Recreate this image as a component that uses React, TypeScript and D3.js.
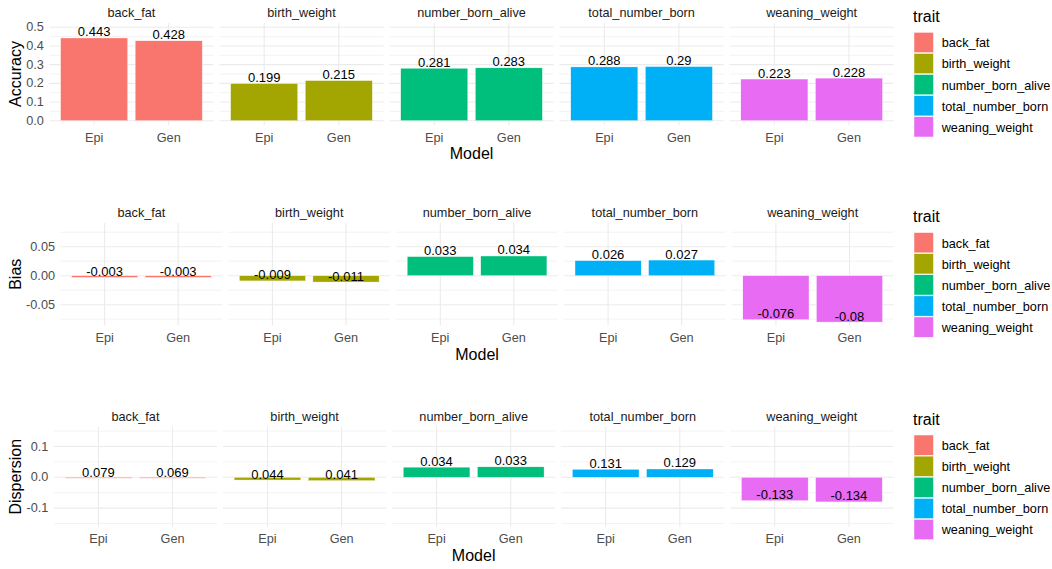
import React from "react";
import * as d3 from "d3";

const traits = ["back_fat", "birth_weight", "number_born_alive", "total_number_born", "weaning_weight"];
const models = ["Epi", "Gen"];
const traitColors = ["#F8766D", "#A3A500", "#00BF7D", "#00B0F6", "#E76BF3"];

const accuracyEpi = [0.443, 0.199, 0.281, 0.288, 0.223];
const accuracyGen = [0.428, 0.215, 0.283, 0.29, 0.228];

const biasEpi = [-0.003, -0.009, 0.033, 0.026, -0.076];
const biasGen = [-0.003, -0.011, 0.034, 0.027, -0.08];

// labels printed in the Dispersion panel
const dispersionEpi = [0.079, 0.044, 0.034, 0.131, -0.133];
const dispersionGen = [0.069, 0.041, 0.033, 0.129, -0.134];
// bar heights as drawn in the Dispersion panel of the reference
const dispersionBarEpi = [-0.003, -0.009, 0.033, 0.026, -0.076];
const dispersionBarGen = [-0.003, -0.011, 0.034, 0.027, -0.08];

const accuracyTicks = [0, 0.1, 0.2, 0.3, 0.4, 0.5];
const accuracyTickLabels = ["0.0", "0.1", "0.2", "0.3", "0.4", "0.5"];
const biasTicks = [-0.05, 0, 0.05];
const biasTickLabels = ["-0.05", "0.00", "0.05"];
const dispersionTicks = [-0.1, 0, 0.1];
const dispersionTickLabels = ["-0.1", "0.0", "0.1"];

const FONT = "'Liberation Sans', Arial, Helvetica, sans-serif";

type RowCfg = {
  title: string;
  barsEpi: number[];
  barsGen: number[];
  labelsEpi: number[];
  labelsGen: number[];
  ticks: number[];
  tickLabels: string[];
  domain: [number, number];
  left: number;
  right: number;
  top: number;
  bottom: number;
};

const rows: RowCfg[] = [
  {
    title: "Accuracy",
    barsEpi: accuracyEpi,
    barsGen: accuracyGen,
    labelsEpi: accuracyEpi,
    labelsGen: accuracyGen,
    ticks: accuracyTicks,
    tickLabels: accuracyTickLabels,
    domain: [-0.023, 0.523],
    left: 49.4,
    right: 893.7,
    top: 23,
    bottom: 125,
  },
  {
    title: "Bias",
    barsEpi: biasEpi,
    barsGen: biasGen,
    labelsEpi: biasEpi,
    labelsGen: biasGen,
    ticks: biasTicks,
    tickLabels: biasTickLabels,
    domain: [-0.0859, 0.0909],
    left: 60.5,
    right: 893.6,
    top: 223,
    bottom: 325.5,
  },
  {
    title: "Dispersion",
    barsEpi: dispersionBarEpi,
    barsGen: dispersionBarGen,
    labelsEpi: dispersionEpi,
    labelsGen: dispersionGen,
    ticks: dispersionTicks,
    tickLabels: dispersionTickLabels,
    domain: [-0.1604, 0.1643],
    left: 53.9,
    right: 893.4,
    top: 426.7,
    bottom: 526.7,
  },
];

const GAP = 6;

function Row({ cfg }: { cfg: RowCfg }) {
  const pw = (cfg.right - cfg.left - 4 * GAP) / 5;
  const y = d3.scaleLinear().domain(cfg.domain).range([cfg.bottom, cfg.top]);
  const x = d3.scalePoint<string>().domain(models).range([0, pw]).padding(0.6);
  const step = x.step();
  const bw = step * 0.9;
  const majorStep = cfg.ticks[1] - cfg.ticks[0];
  const minor: number[] = [];
  for (let i = -1; i < cfg.ticks.length; i++) {
    const v = cfg.ticks[0] + (i + 0.5) * majorStep;
    if (v >= cfg.domain[0] && v <= cfg.domain[1]) minor.push(v);
  }
  const fmt = (v: number) => String(v);
  const midY = (cfg.top + cfg.bottom) / 2;
  const midX = (cfg.left + cfg.right) / 2;

  return (
    <g>
      {traits.map((t, i) => {
        const px = cfg.left + i * (pw + GAP);
        const vals = [cfg.barsEpi[i], cfg.barsGen[i]];
        const labs = [cfg.labelsEpi[i], cfg.labelsGen[i]];
        return (
          <g key={t} transform={`translate(${px},0)`}>
            {minor.map((v) => (
              <line key={"mn" + v} x1={0} x2={pw} y1={y(v)} y2={y(v)} stroke="#EBEBEB" strokeWidth={0.6} />
            ))}
            {cfg.ticks.map((v) => (
              <line key={"mj" + v} x1={0} x2={pw} y1={y(v)} y2={y(v)} stroke="#EBEBEB" strokeWidth={1.1} />
            ))}
            {models.map((m) => (
              <line key={"v" + m} x1={x(m)!} x2={x(m)!} y1={cfg.top} y2={cfg.bottom} stroke="#EBEBEB" strokeWidth={1.1} />
            ))}
            {models.map((m, j) => {
              const v = vals[j];
              const y0 = y(0);
              const y1 = y(v);
              return (
                <rect
                  key={"b" + m}
                  x={x(m)! - bw / 2}
                  y={Math.min(y0, y1)}
                  width={bw}
                  height={Math.max(Math.abs(y1 - y0), 0.8)}
                  fill={traitColors[i]}
                  stroke="#ffffff"
                  strokeWidth={0.4}
                />
              );
            })}
            {models.map((m, j) => (
              <text
                key={"l" + m}
                x={x(m)!}
                y={y(vals[j]) - 1.5}
                textAnchor="middle"
                fontSize={13}
                fontFamily={FONT}
                fill="#000"
              >
                {fmt(labs[j])}
              </text>
            ))}
            <text
              x={pw / 2}
              y={cfg.top - 10}
              textAnchor="middle"
              dominantBaseline="central"
              fontSize={12.7}
              fontFamily={FONT}
              fill="#1A1A1A"
            >
              {t}
            </text>
            {models.map((m) => (
              <text
                key={"t" + m}
                x={x(m)!}
                y={cfg.bottom + 12.5}
                textAnchor="middle"
                dominantBaseline="central"
                fontSize={12.7}
                fontFamily={FONT}
                fill="#4D4D4D"
              >
                {m}
              </text>
            ))}
          </g>
        );
      })}
      {cfg.ticks.map((v, k) => (
        <text
          key={"yt" + v}
          x={cfg.left - 5.5}
          y={y(v)}
          textAnchor="end"
          dominantBaseline="central"
          fontSize={12.7}
          fontFamily={FONT}
          fill="#4D4D4D"
        >
          {cfg.tickLabels[k]}
        </text>
      ))}
      <text
        x={midX}
        y={cfg.bottom + 28.5}
        textAnchor="middle"
        dominantBaseline="central"
        fontSize={16}
        fontFamily={FONT}
        fill="#000"
      >
        Model
      </text>
      <text
        transform={`translate(15,${midY}) rotate(-90)`}
        textAnchor="middle"
        dominantBaseline="central"
        fontSize={16}
        fontFamily={FONT}
        fill="#000"
      >
        {cfg.title}
      </text>
      <g transform={`translate(0,${midY - 74})`}>
        <text x={913} y={16.7} dominantBaseline="central" fontSize={16} fontFamily={FONT} fill="#000">
          trait
        </text>
        {traits.map((t, i) => (
          <g key={"lg" + t}>
            <rect x={914} y={32.3 + i * 21.1} width={19.5} height={20.3} fill={traitColors[i]} stroke="#fff" strokeWidth={0.5} />
            <text
              x={941.7}
              y={32.3 + i * 21.1 + 11}
              dominantBaseline="central"
              fontSize={12.7}
              fontFamily={FONT}
              fill="#000"
            >
              {t}
            </text>
          </g>
        ))}
      </g>
    </g>
  );
}

export default function App() {
  return (
    <svg
      width={1052}
      height={569}
      viewBox="0 0 1052 569"
      style={{ position: "absolute", left: 0, top: 0, background: "#fff" }}
    >
      <rect width={1052} height={569} fill="#fff" />
      {rows.map((r) => (
        <Row key={r.title} cfg={r} />
      ))}
    </svg>
  );
}
